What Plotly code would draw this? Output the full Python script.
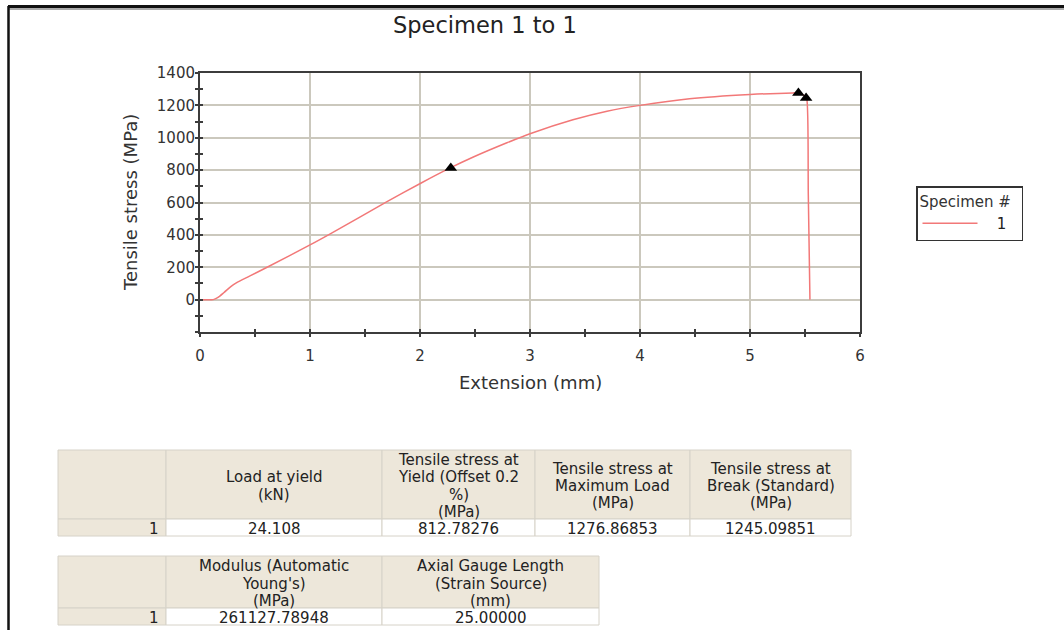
import plotly.graph_objects as go

# ---------------- data ----------------
extension_mm = [0.0, 0.12, 0.16, 0.22, 0.28, 0.33, 0.45, 0.61, 1.0, 1.18, 1.7, 2.015,
                2.27, 2.485, 2.79, 3.0, 3.39, 3.7, 4.0, 4.45, 5.0, 5.39, 5.44, 5.5,
                5.515, 5.53, 5.545]
stress_mpa = [0, 0, 12, 45, 80, 103, 145, 200, 338, 405, 605, 722,
              812, 881, 969, 1025, 1111, 1164, 1200, 1241, 1267, 1277, 1277, 1258,
              1245, 650, 0]

marker_ext = [2.28, 5.44, 5.51]
marker_stress = [812.78276, 1276.86853, 1245.09851]

x_ticks = [0, 1, 2, 3, 4, 5, 6]
y_ticks = [0, 200, 400, 600, 800, 1000, 1200, 1400]

table1_header = [[],
                 ["Load at yield", "(kN)"],
                 ["Tensile stress at", "Yield (Offset 0.2", "%)", "(MPa)"],
                 ["Tensile stress at", "Maximum Load", "(MPa)"],
                 ["Tensile stress at", "Break (Standard)", "(MPa)"]]
table1_row = ["1", "24.108", "812.78276", "1276.86853", "1245.09851"]
table2_header = [[],
                 ["Modulus (Automatic", "Young's)", "(MPa)"],
                 ["Axial Gauge Length", "(Strain Source)", "(mm)"]]
table2_row = ["1", "261127.78948", "25.00000"]

W, H = 1064, 630
def px(x):
    return x / W
def py(y):
    return 1 - y / H

GRID = "#cbc8bd"
AXIS = "#3c3c3c"
FONT = "DejaVu Sans"
TFONT = "DejaVu Sans"
TSIZE = 15
BEIGE = "#ede7da"
TLINE = "#d6d2c8"

fig = go.Figure()

fig.add_trace(go.Scatter(x=extension_mm, y=stress_mpa, mode="lines",
                         name="\u00a0\u00a0\u00a01\u00a0\u00a0",
                         line=dict(color="#f27878", width=1.5, shape="spline", smoothing=0.7)))
fig.add_trace(go.Scatter(x=marker_ext, y=marker_stress, mode="markers", showlegend=False,
                         marker=dict(symbol="triangle-up", size=11, color="black")))
fig.add_trace(go.Scatter(x=[None], y=[None], xaxis="x2", yaxis="y2", showlegend=False, hoverinfo="skip"))

shapes = [
    dict(type="line", xref="paper", yref="paper", x0=px(8), x1=1, y0=py(9), y1=py(9),
         line=dict(color="#aaaaaa", width=2)),
    dict(type="line", xref="paper", yref="paper", x0=px(8), x1=1, y0=py(6.5), y1=py(6.5),
         line=dict(color="#111", width=3)),
    dict(type="line", xref="paper", yref="paper", x0=px(8.5), x1=px(8.5), y0=py(6), y1=0,
         line=dict(color="#111", width=2.5)),
]
annotations = [
    dict(text="Specimen 1 to 1", x=px(485), y=py(25), xref="paper", yref="paper",
         xanchor="center", yanchor="middle",
         showarrow=False, font=dict(family=FONT, size=22.5, color="#222")),
    dict(text="Extension (mm)", x=px(530), y=py(382), xref="paper", yref="paper",
         xanchor="center", yanchor="middle",
         showarrow=False, font=dict(family=FONT, size=18, color="#333")),
    dict(text="Tensile stress (MPa)", x=px(131), y=py(203), xref="paper", yref="paper",
         xanchor="center", yanchor="middle",
         showarrow=False, textangle=-90, font=dict(family=FONT, size=18, color="#333")),
]


def add_table(x0, top, widths, header_h, row_h, header, row):
    line_h = 17.2
    x = x0
    for i, w in enumerate(widths):
        shapes.append(dict(type="rect", xref="paper", yref="paper", layer="below",
                           x0=px(x), x1=px(x + w), y0=py(top + header_h), y1=py(top),
                           fillcolor=BEIGE, line=dict(color=TLINE, width=1)))
        shapes.append(dict(type="rect", xref="paper", yref="paper", layer="below",
                           x0=px(x), x1=px(x + w), y0=py(top + header_h + row_h), y1=py(top + header_h),
                           fillcolor=BEIGE if i == 0 else "white", line=dict(color=TLINE, width=1)))
        lines = header[i]
        n = len(lines)
        cy = top + header_h / 2 + 1.5
        for k, t in enumerate(lines):
            yy = cy + (k - (n - 1) / 2) * line_h
            annotations.append(dict(text=t, x=px(x + w / 2), y=py(yy), xref="paper", yref="paper",
                                    xanchor="center", yanchor="middle", showarrow=False,
                                    font=dict(family=TFONT, size=TSIZE, color="#222")))
        vy = top + header_h + row_h / 2 + 1
        if i == 0:
            annotations.append(dict(text=row[i], x=px(x + w - 5), y=py(vy), xref="paper", yref="paper",
                                    xanchor="right", yanchor="middle", showarrow=False,
                                    font=dict(family=TFONT, size=TSIZE, color="#222")))
        else:
            annotations.append(dict(text=row[i], x=px(x + w / 2), y=py(vy), xref="paper", yref="paper",
                                    xanchor="center", yanchor="middle", showarrow=False,
                                    font=dict(family=TFONT, size=TSIZE, color="#222")))
        x += w


add_table(58, 450, [108, 216, 153, 155, 161], 69, 17, table1_header, table1_row)
add_table(58, 556, [108, 216, 217], 52, 17, table2_header, table2_row)

xdom = [px(200), px(860)]
ydom = [py(332), py(73)]

fig.update_layout(
    width=W, height=H,
    margin=dict(l=0, r=0, t=0, b=0, pad=0),
    paper_bgcolor="white", plot_bgcolor="white",
    font=dict(family=FONT, color="#333"),
    xaxis=dict(domain=xdom, range=[0, 6], tickvals=x_ticks, ticks="outside", ticklen=3,
               tickwidth=2, tickcolor=AXIS,
               minor=dict(dtick=0.5, tick0=0, ticks="outside", ticklen=3, tickwidth=2, tickcolor=AXIS, showgrid=False),
               showgrid=True, gridcolor=GRID, gridwidth=2, zeroline=False,
               showline=True, linecolor=AXIS, linewidth=2, mirror=True,
               tickfont=dict(size=15, color="#333"), automargin=False, ticklabelstandoff=6,
               fixedrange=True),
    yaxis=dict(domain=ydom, range=[-200, 1400], tickvals=y_ticks, ticks="outside", ticklen=3,
               tickwidth=2, tickcolor=AXIS,
               minor=dict(dtick=100, tick0=0, ticks="outside", ticklen=3, tickwidth=2, tickcolor=AXIS, showgrid=False),
               showgrid=True, gridcolor=GRID, gridwidth=2, zeroline=False,
               showline=True, linecolor=AXIS, linewidth=2, mirror=True,
               tickfont=dict(size=15, color="#333"), automargin=False, ticklabelstandoff=-3,
               fixedrange=True),
    xaxis2=dict(domain=xdom, range=[0, 6], overlaying="x", anchor="y2", side="bottom",
                tickvals=x_ticks, ticks="inside", ticklen=3, tickwidth=2, tickcolor=AXIS,
                minor=dict(dtick=0.5, tick0=0, ticks="inside", ticklen=3, tickwidth=2, tickcolor=AXIS, showgrid=False),
                showticklabels=False, showgrid=False, zeroline=False, showline=False, fixedrange=True),
    yaxis2=dict(domain=ydom, range=[-200, 1400], overlaying="y", anchor="x2", side="left",
                tickvals=y_ticks, ticks="inside", ticklen=3, tickwidth=2, tickcolor=AXIS,
                minor=dict(dtick=100, tick0=0, ticks="inside", ticklen=3, tickwidth=2, tickcolor=AXIS, showgrid=False),
                showticklabels=False, showgrid=False, zeroline=False, showline=False, fixedrange=True),
    showlegend=True,
    legend=dict(x=px(916), y=py(186), xanchor="left", yanchor="top",
                bordercolor="#333", borderwidth=1.5, bgcolor="white",
                title=dict(text="Specimen #", font=dict(family=FONT, size=15, color="#333")),
                font=dict(family=FONT, size=15, color="#222"), itemwidth=55),
    annotations=annotations,
    shapes=shapes,
)

fig.write_html("out.html")
